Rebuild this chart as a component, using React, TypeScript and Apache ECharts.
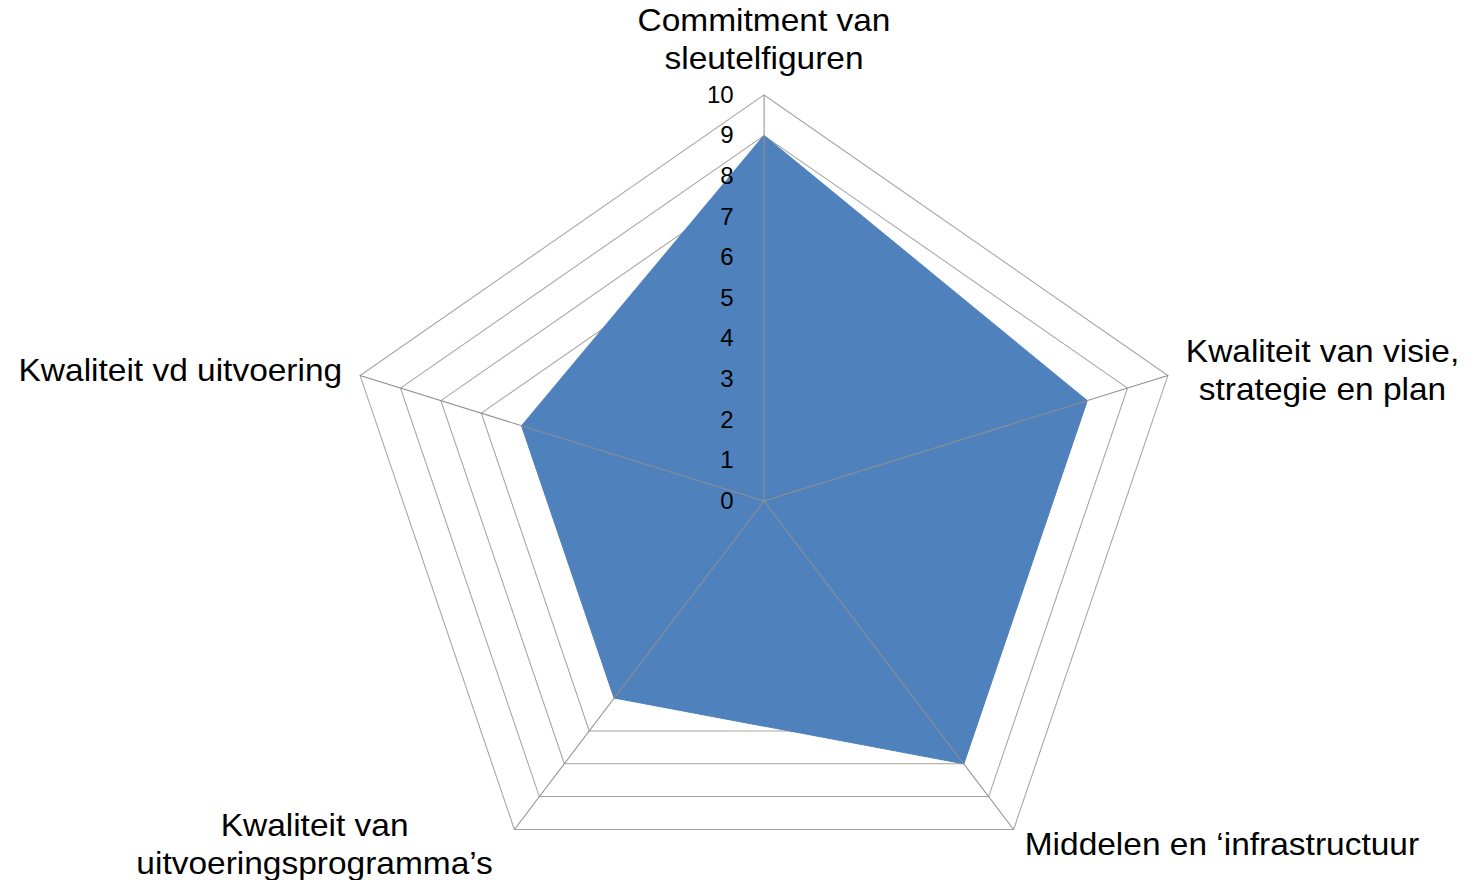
import React, { useEffect, useRef } from 'react';
import * as echarts from 'echarts';

const indicatorNames = [
  'Commitment van\nsleutelfiguren',
  'Kwaliteit vd uitvoering',
  'Kwaliteit van\nuitvoeringsprogramma’s',
  'Middelen en ‘infrastructuur',
  'Kwaliteit van visie,\nstrategie en plan',
];
const scores = [9, 6, 6, 8, 8];
const axisMin = 0;
const axisMax = 10;
const tickCount = 10;

const FONT = '"Liberation Sans", Arial, sans-serif';
// the reference picture is slightly wider than it is tall
const STRETCH_X = 1.046;
const PAGE_W = 1469;
const PAGE_H = 880;

export default function App() {
  const ref = useRef<HTMLDivElement>(null);
  useEffect(() => {
    const chart = echarts.init(ref.current!, null, { renderer: 'svg' });
    const common = {
      center: [764 / STRETCH_X, 501],
      radius: 406,
      startAngle: 90,
      shape: 'polygon',
      splitNumber: tickCount,
    };
    const nameStyle = {
      align: 'center',
      color: '#000',
      fontFamily: FONT,
      fontSize: 32,
      lineHeight: 38,
    };
    chart.setOption({
      animation: false,
      radar: [
        {
          ...common,
          z: 0,
          indicator: indicatorNames.map((name) => ({ name, min: axisMin, max: axisMax })),
          axisName: { show: false },
          axisLine: { show: false },
          axisTick: { show: false },
          axisLabel: { show: false },
          splitArea: { show: false },
          splitLine: { show: true, lineStyle: { color: '#a3a3a3', width: 1 } },
        },
        {
          ...common,
          z: 3,
          indicator: indicatorNames.map((name, i) => ({
            name,
            min: axisMin,
            max: axisMax,
            ...(i === 0 ? { axisLabel: { show: true } } : {}),
          })),
          nameGap: 18,
          axisName: {
            show: true,
            color: '#000',
            fontFamily: FONT,
            fontSize: 32,
            formatter: (name: string) => {
              const tag = name === indicatorNames[2] ? 'd' : 'c';
              return name
                .split('\n')
                .map((s) => `{${tag}|${s}}`)
                .join('\n');
            },
            rich: {
              c: nameStyle,
              d: { ...nameStyle, padding: [0, 10, 0, 0] },
            },
          },
          axisLine: { show: true, lineStyle: { color: '#8f8f8f', width: 1 } },
          axisTick: { show: false },
          splitLine: { show: false },
          splitArea: { show: false },
          axisLabel: {
            show: false,
            color: '#000',
            fontFamily: FONT,
            fontSize: 23,
            margin: 29,
          },
        },
      ],
      series: [
        {
          type: 'radar',
          radarIndex: 0,
          symbol: 'none',
          z: 2,
          data: [
            {
              value: scores,
              areaStyle: { color: '#4F81BD', opacity: 1 },
              lineStyle: { color: '#4F81BD', width: 1 },
            },
          ],
        },
      ],
    });
    return () => chart.dispose();
  }, []);
  return (
    <div
      style={{
        position: 'fixed',
        left: 0,
        top: 0,
        width: PAGE_W,
        height: PAGE_H,
        overflow: 'hidden',
        background: '#fff',
      }}
    >
      <div
        ref={ref}
        style={{
          width: Math.round(PAGE_W / STRETCH_X),
          height: PAGE_H,
          transform: `scaleX(${STRETCH_X})`,
          transformOrigin: '0 0',
        }}
      />
    </div>
  );
}
